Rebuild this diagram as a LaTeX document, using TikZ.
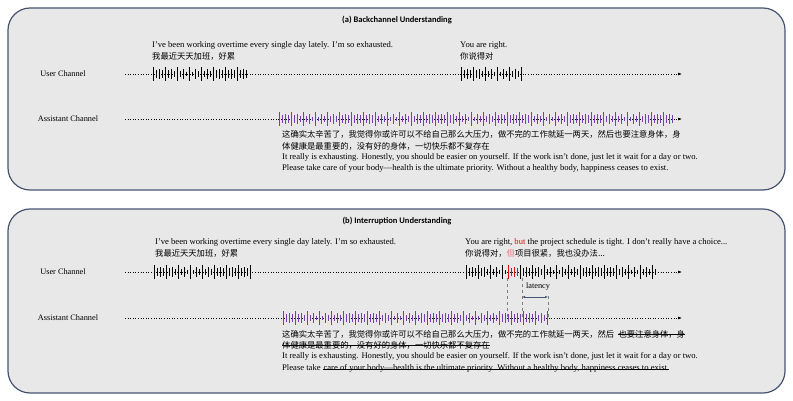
\documentclass[tikz,border=0pt]{standalone}
\usepackage{fontspec}
\setmainfont{Liberation Serif}
\newfontfamily\cjk{Noto Sans CJK SC}
\newfontfamily\ttl{Carlito}
\usetikzlibrary{arrows.meta}
\definecolor{panelbg}{RGB}{232,232,232}
\definecolor{panelbd}{RGB}{70,85,110}
\definecolor{wpurple}{RGB}{120,60,180}
\definecolor{wred}{RGB}{210,20,20}
\tikzset{
 panel/.style={draw=panelbd,line width=1.2pt,fill=panelbg,rounded corners=22pt},
 ttlf/.style={font=\ttl\bfseries\fontsize{8.5}{10}\selectfont},
 lab/.style={font=\fontsize{8.3}{9}\selectfont},
 txt/.style={font=\fontsize{8.6}{10}\selectfont,anchor=west,inner sep=0pt},
 ctxt/.style={font=\cjk\fontsize{8.3}{10}\selectfont,anchor=west,inner sep=0pt},
 chan/.style={dotted,line width=0.6pt,-{Latex[length=4pt,width=3pt]}},
 dsh/.style={dashed,draw=gray,line width=0.7pt},
 strike/.style={line width=0.6pt},
}
\newcommand\mywave[4]{%
 \pgfmathtruncatemacro\nb{(#2-#1)/3}%
 \foreach \i in {0,...,\nb}{%
  \pgfmathsetmacro\hh{ifthenelse(mod(\i,4)==0,7,ifthenelse(mod(\i,4)==2,5,2+2*abs(sin(\i*97))))}%
  \draw[#4,line width=1pt] (#1+\i*3,#3-\hh) -- (#1+\i*3,#3+\hh);}}
\begin{document}
\begin{tikzpicture}[x=1pt,y=-1pt]
\useasboundingbox (0,0) rectangle (793,401);
% panel a
\draw[panel] (8,8) rectangle (785,190);
\node[ttlf] (ta) at (397,20) {(a) Backchannel Understanding};
\node[lab] (ua) at (63,74) {User Channel};
\node[lab] (aa) at (68,119) {Assistant Channel};
\coordinate (ua1) at (125,74); \coordinate (ua2) at (682,74);
\coordinate (aa1) at (125,119); \coordinate (aa2) at (682,119);
\draw[chan] (ua1) -- (ua2);
\draw[chan] (aa1) -- (aa2);
\mywave{153}{248}{74}{black}
\mywave{461}{521}{74}{black}
\mywave{279}{672}{119}{wpurple}
\node[txt] (a1) at (152,45) {I've been working overtime every single day lately. I'm so exhausted.};
\node[ctxt] (a2) at (152,56) {我最近天天加班，好累};
\node[txt] (a3) at (460,45) {You are right.};
\node[ctxt] (a4) at (460,56) {你说得对};
\node[ctxt] (a5) at (282,134) {这确实太辛苦了，我觉得你或许可以不给自己那么大压力，做不完的工作就延一两天，然后也要注意身体，身};
\node[ctxt] (a6) at (282,146) {体健康是最重要的，没有好的身体，一切快乐都不复存在};
\node[txt] (a7) at (282,157) {It really is exhausting. Honestly, you should be easier on yourself. If the work isn't done, just let it wait for a day or two.};
\node[txt] (a8) at (282,168) {Please take care of your body---health is the ultimate priority. Without a healthy body, happiness ceases to exist.};
% panel b
\draw[panel] (8,209) rectangle (785,393);
\node[ttlf] (tb) at (397,221) {(b) Interruption Understanding};
\node[lab] (ub) at (63,272) {User Channel};
\node[lab] (ab) at (68,318) {Assistant Channel};
\coordinate (ub1) at (125,272); \coordinate (ub2) at (682,272);
\coordinate (ab1) at (125,318); \coordinate (ab2) at (682,318);
\draw[chan] (ub1) -- (ub2);
\draw[chan] (ab1) -- (ab2);
\mywave{154}{250}{272}{black}
\mywave{466}{505}{272}{black}
\mywave{508}{517}{272}{wred}
\mywave{520}{657}{272}{black}
\mywave{283}{548}{318}{wpurple}
\coordinate (d1t) at (507,278); \coordinate (d1b) at (507,318);
\coordinate (d2t) at (522,278); \coordinate (d2b) at (522,318);
\coordinate (d3t) at (548,296); \coordinate (d3b) at (548,318);
\draw[dsh] (d1t) -- (d1b);
\draw[dsh] (d2t) -- (d2b);
\draw[dsh] (d3t) -- (d3b);
\draw[{Latex[length=3pt,width=2.5pt]}-{Latex[length=3pt,width=2.5pt]},draw=panelbd,line width=0.6pt] (d2t|-0,297) -- (d3t|-0,297);
\node[lab] (lat) at (538,287) {latency};
\node[txt] (b1) at (155,242) {I've been working overtime every single day lately. I'm so exhausted.};
\node[ctxt] (b2) at (155,253) {我最近天天加班，好累};
\node[txt] (b3) at (465,242) {You are right, \textcolor{wred}{but} the project schedule is tight. I don't really have a choice...};
\node[ctxt] (b4) at (465,253) {你说得对，\textcolor{wred!60}{但}项目很紧，我也没办法...};
\node[ctxt] (b5) at (282,334) {这确实太辛苦了，我觉得你或许可以不给自己那么大压力，做不完的工作就延一两天，然后};
\node[ctxt,anchor=base west] (b5s) at ([xshift=4pt]b5.base east) {也要注意身体，身};
\node[ctxt] (b6) at (282,345) {体健康是最重要的，没有好的身体，一切快乐都不复存在};
\node[txt] (b7) at (282,356) {It really is exhausting. Honestly, you should be easier on yourself. If the work isn't done, just let it wait for a day or two.};
\node[txt] (b8) at (282,368) {Please take};
\node[txt,anchor=base west] (b8s) at ([xshift=2.5pt]b8.base east) {care of your body---health is the ultimate priority. Without a healthy body, happiness ceases to exist.};
\draw[strike] (b5s.west) -- (b5s.east);
\draw[strike] (b6.west) -- (b6.east);
\draw[strike] (b8s.west) -- (b8s.east);
\end{tikzpicture}
\end{document}
